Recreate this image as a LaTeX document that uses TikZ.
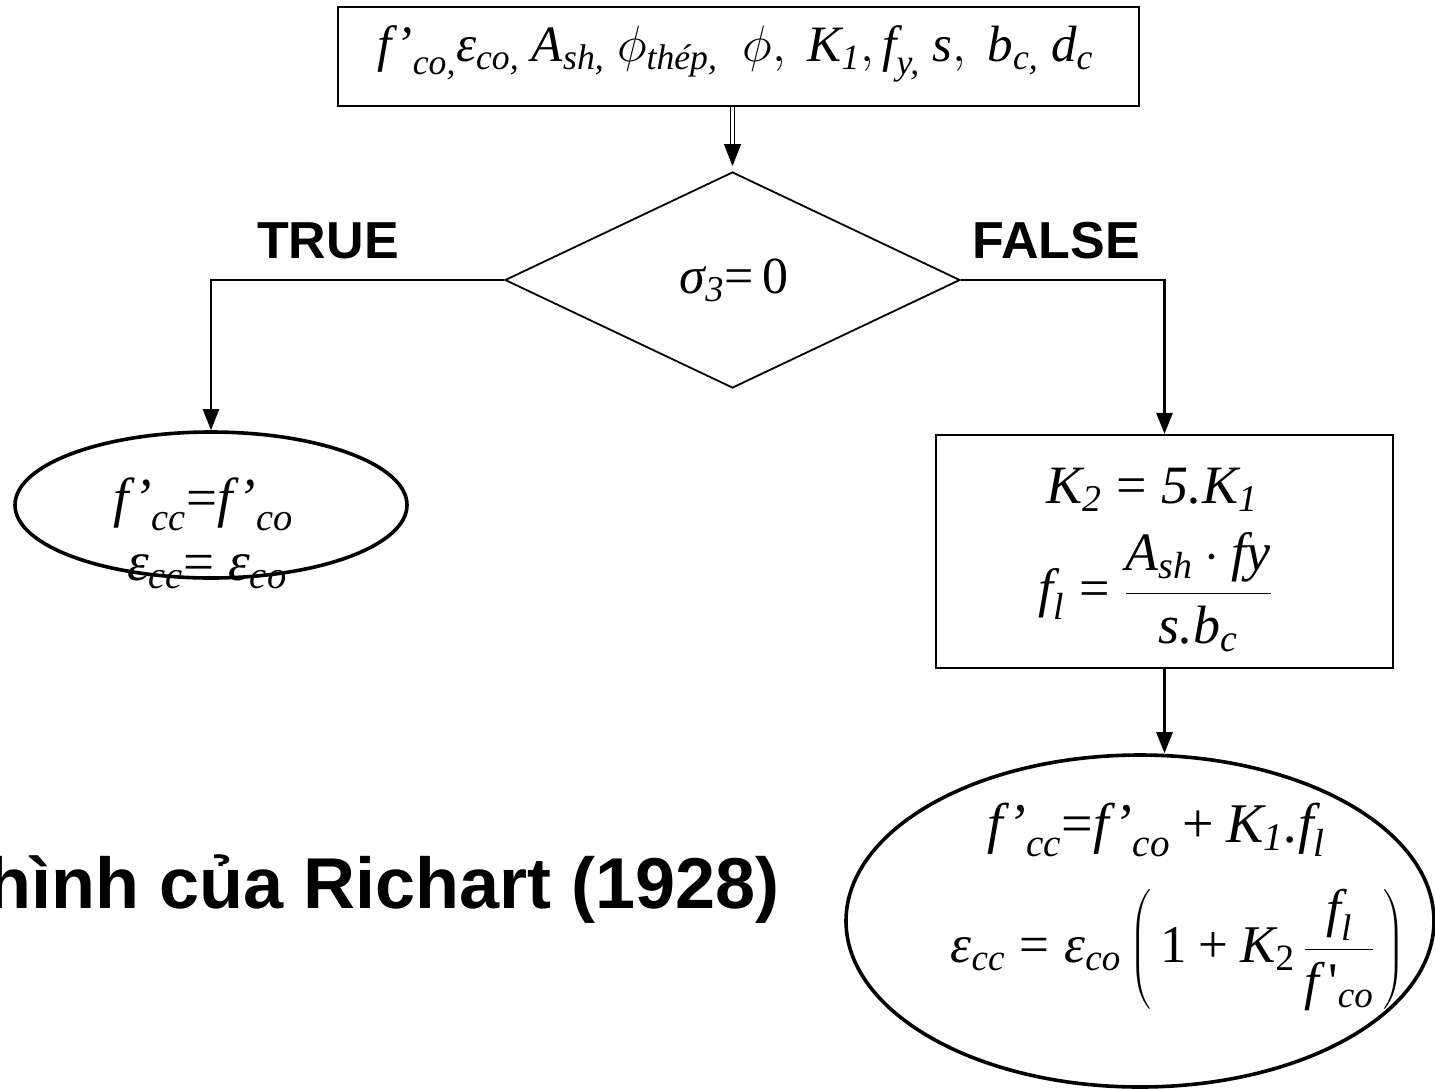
\RequirePackage{fix-cm}
\documentclass[tikz,border=0pt]{standalone}
\usepackage{amsmath}
\usepackage{fontspec}
\setmainfont{Liberation Serif}
\newfontfamily\headsans{Liberation Sans}
\usetikzlibrary{positioning,arrows.meta,shapes.geometric}
\newcommand{\vi}[1]{\textit{#1}}
\newcommand{\teq}{\mathrel{\textup{=}}}
\newcommand{\tplus}{\mathbin{\textup{+}}}

\begin{document}
\begin{tikzpicture}[
    x=1pt, y=-1pt,
    inbox/.style={draw, line width=2.6pt, minimum width=801pt, minimum height=99pt, inner sep=0pt},
    decision/.style={draw, diamond, line width=1.8pt, aspect=2.1, minimum width=455pt, minimum height=216pt, inner sep=0pt},
    calcbox/.style={draw, line width=2.2pt, minimum width=457pt, minimum height=233pt, inner sep=0pt},
    result/.style={draw, ellipse, line width=3.6pt, inner sep=0pt},
    formula/.style={inner sep=0pt},
    branch/.style={font=\headsans\bfseries\fontsize{52}{60}\selectfont, inner sep=0pt},
    arrow/.style={-{Triangle[length=21pt,width=16pt]}, line width=2.6pt}
]
\clip (0,0) rectangle (1435,1088);

% input data and test
\node[inbox] (inbox) at (738.5,56.5) {};
\node[formula, font=\fontsize{51}{60}\selectfont] (intxt) at (735,54)
  {$\vi{f’}_{\vi{co,}}\vi{ε}_{\vi{co,}}\ \vi{A}_{\vi{sh,}}\ \phi_{\vi{thép,}}\ \ \phi,\ \vi{K}_{\vi{1}},\vi{f}_{\vi{y,}}\ \vi{s},\ \vi{b}_{\vi{c,}}\ \vi{d}_{\vi{c}}$};
\node[decision] (cond) at (732.5,280) {};
\node[formula, font=\fontsize{52}{60}\selectfont] (condtxt) at (734,280) {$\vi{σ}_{\vi{3}}{\teq}\,\textup{0}$};

\coordinate (dblend) at ([yshift=-44pt]cond.north |- inbox.south);
\draw[line width=1.2pt, double, double distance=2.6pt] (cond.north |- inbox.south) -- (dblend);
\draw[-{Triangle[length=22pt,width=17pt]}, line width=1pt] (dblend) -- ([yshift=5pt]cond.north);

\node[branch] (truelbl) at (328,241) {TRUE};
\node[branch] (falselbl) at (1056,241) {FALSE};

% TRUE branch
\node[result, minimum width=392pt, minimum height=146pt] (trueell) at (211,505) {};
\node[formula, font=\fontsize{55}{66}\selectfont] (truetop) at (203,504) {$\vi{f’}_{\vi{cc}}{\teq}\vi{f’}_{\vi{co}}$};
\node[formula, font=\fontsize{55}{66}\selectfont] (truebot) at (207,572) {$\vi{ε}_{\vi{cc}}{\teq}\ \vi{ε}_{\vi{co}}$};
\draw[arrow] (cond.west) -| (trueell.north);

% FALSE branch
\node[calcbox] (calc) at (1164.5,551.5) {};
\node[formula, font=\fontsize{54}{64}\selectfont] (calctop) at (1152,490) {$\vi{K}_{\vi{2}} \teq \vi{5.K}_{\vi{1}}$};
\node[formula, font=\fontsize{54}{64}\selectfont] (calcbot) at (1155,592)
  {$\vi{f}_{\vi{l}} \teq \dfrac{\vi{A}_{\vi{sh}}\cdot\vi{fy}}{\vi{s.b}_{\vi{c}}}$};
\draw[arrow] (cond.east) -| (calc.north);

\node[result, minimum width=588pt, minimum height=332pt] (falseell) at (1140,921) {};
\node[formula, font=\fontsize{56}{66}\selectfont] (falsetop) at (1156,830)
  {$\vi{f’}_{\vi{cc}}{\teq}\vi{f’}_{\vi{co}} \tplus \vi{K}_{\vi{1}}\vi{.f}_{\vi{l}}$};
\node[formula, font=\fontsize{53}{64}\selectfont] (falsebot) at (1178,950)
  {$\vi{ε}_{\vi{cc}} \teq \vi{ε}_{\vi{co}}\left(\,\textup{1}\tplus\vi{K}_{\textup{2}}\,\dfrac{\vi{f}_{\vi{l}}}{\vi{f}\,\text{\textquotesingle}_{\vi{co}}}\,\right)$};
\draw[arrow] (calc.south) -- (calc.south |- falseell.north);

\node[anchor=base west, inner sep=0pt, font=\headsans\bfseries\fontsize{72}{80}\selectfont] (title) at (-13,908) {hình của Richart (1928)};
\end{tikzpicture}
\end{document}
